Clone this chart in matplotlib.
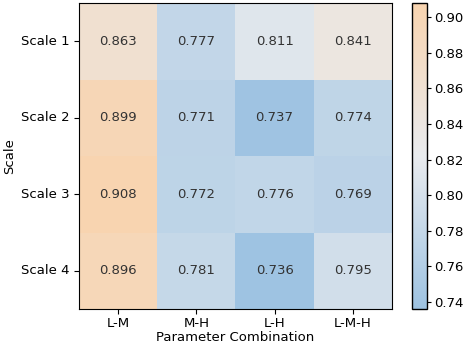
import matplotlib
matplotlib.use('Agg')
import matplotlib.pyplot as plt
from matplotlib.colors import LinearSegmentedColormap
import numpy as np
import seaborn as sns

# Data
scales = ['Scale 1', 'Scale 2', 'Scale 3', 'Scale 4']
combos = ['L-M', 'M-H', 'L-H', 'L-M-H']
values = np.array([
    [0.863, 0.777, 0.811, 0.841],
    [0.899, 0.771, 0.737, 0.774],
    [0.908, 0.772, 0.776, 0.769],
    [0.896, 0.781, 0.736, 0.795],
])

cmap = LinearSegmentedColormap.from_list('bo', ['#9ec3e2', '#e9ebee', '#f8d4b0'])

fig = plt.figure(figsize=(4.64, 3.47), dpi=100)
ax = fig.add_axes([79 / 464, 38 / 347, 313 / 464, 306 / 347])
cax = fig.add_axes([412 / 464, 38 / 347, 15 / 464, 306 / 347])
sns.heatmap(values, ax=ax, cbar_ax=cax, cmap=cmap, annot=True, fmt='.3f',
            annot_kws={'color': '#333333', 'fontsize': 9.5},
            xticklabels=combos, yticklabels=scales)
ax.set_xlabel('Parameter Combination', fontsize=9.5, labelpad=0.5)
ax.set_ylabel('Scale', fontsize=9.5, labelpad=3)
ax.tick_params(axis='y', rotation=0, labelsize=9.5)
ax.tick_params(axis='x', labelsize=9.5, pad=2.5)
for s in ax.spines.values():
    s.set_visible(True)
    s.set_color('black')
cbar = ax.collections[0].colorbar
cbar.outline.set_visible(True)
cbar.outline.set_edgecolor('black')
cbar.outline.set_linewidth(1)
cbar.ax.tick_params(length=3, pad=2, labelsize=9.5)

plt.savefig('out.png', dpi=100)
plt.close()
